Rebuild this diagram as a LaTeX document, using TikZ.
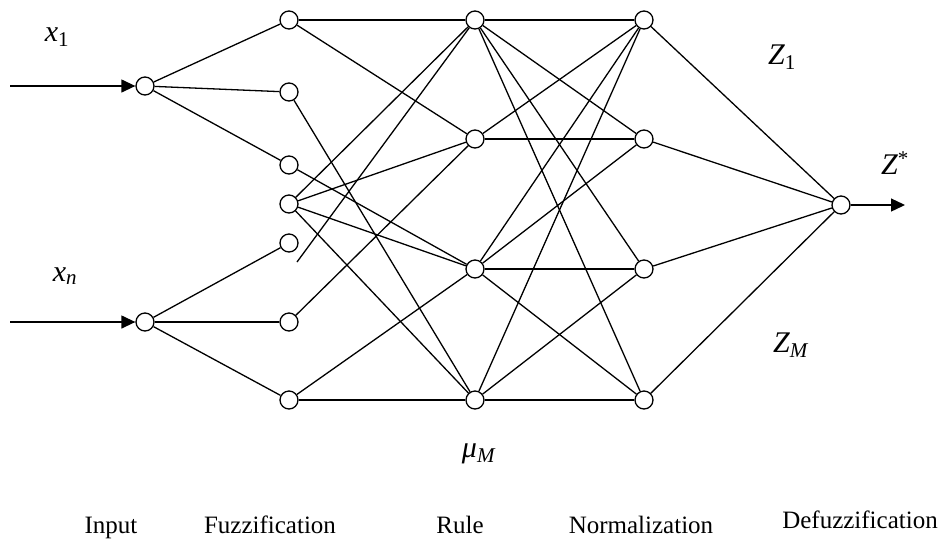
\documentclass[tikz,border=0pt]{standalone}
\usepackage{fontspec}
\setmainfont{Liberation Serif}
\usetikzlibrary{arrows.meta}
\begin{document}
\begin{tikzpicture}[x=1pt, y=-1pt, line width=1.3pt,
    neuron/.style={circle, draw, fill=white, minimum size=18pt, inner sep=0pt},
    layer/.style={font=\fontsize{25}{30}\selectfont, anchor=base},
    sym/.style={font=\fontsize{30}{36}\selectfont},
    >={Triangle[length=14pt,width=13pt]}]
    \useasboundingbox (0,0) rectangle (945,542);

    % Input layer
    \node[neuron] (i1) at (145,86) {};
    \node[neuron] (i2) at (145,322) {};

    % Fuzzification layer
    \foreach \n/\y in {1/20,2/92,3/165,4/204,5/243,6/322,7/400}
        \node[neuron] (f\n) at (289,\y) {};

    % Rule layer
    \foreach \n/\y in {1/20,2/139,3/269,4/400}
        \node[neuron] (r\n) at (475,\y) {};

    % Normalization layer
    \foreach \n/\y in {1/20,2/139,3/269,4/400}
        \node[neuron] (n\n) at (644,\y) {};

    % Defuzzification
    \node[neuron] (d) at (841,205) {};

    % Input and output arrows
    \coordinate (x1in) at (10,86);
    \coordinate (xnin) at (10,322);
    \coordinate (zout) at (905,205);
    \draw[->] (x1in) -- (i1);
    \draw[->] (xnin) -- (i2);
    \draw[->] (d) -- (zout);

    % Input -> fuzzification
    \foreach \f in {1,2,3} \draw (i1) -- (f\f);
    \foreach \f in {5,6,7} \draw (i2) -- (f\f);

    % Fuzzification -> rule
    \coordinate (f5tail) at (297,262);
    \foreach \a/\b in {f1/r1,f1/r2,f2/r4,f3/r3,f4/r1,f4/r2,f4/r3,f4/r4,
                       f5tail/r1,f6/r2,f7/r3,f7/r4}
        \draw (\a) -- (\b);

    % Rule -> normalization
    \foreach \a/\b in {r1/n1,r1/n2,r1/n3,r1/n4,r2/n1,r2/n2,
                       r3/n1,r3/n2,r3/n3,r3/n4,r4/n1,r4/n3,r4/n4}
        \draw (\a) -- (\b);

    % Normalization -> defuzzification
    \foreach \n in {1,...,4} \draw (n\n) -- (d);

    % Symbols
    \node[sym] (lx1) at (57,37) {\textit{x}\textsubscript{1}};
    \node[sym] (lxn) at (65,276) {\textit{x}\textsubscript{\textit{n}}};
    \node[sym] (lz1) at (782,57) {\textit{Z}\textsubscript{1}};
    \node[sym] (lzm) at (791,345) {\textit{Z}\textsubscript{\textit{M}}};
    \node[sym] (lzs) at (895,163) {\textit{Z}\textsuperscript{*}};
    \node[sym] (lmu) at (479,454) {\textit{μ}\textsubscript{\textit{M}}};

    % Layer names
    \node[layer] (tin) at (111,533) {Input};
    \node[layer] (tfz) at (270,533) {Fuzzification};
    \node[layer] (tru) at (460,533) {Rule};
    \node[layer] (tno) at (641,533) {Normalization};
    \node[layer] (tde) at (860,528) {Defuzzification};
\end{tikzpicture}
\end{document}
